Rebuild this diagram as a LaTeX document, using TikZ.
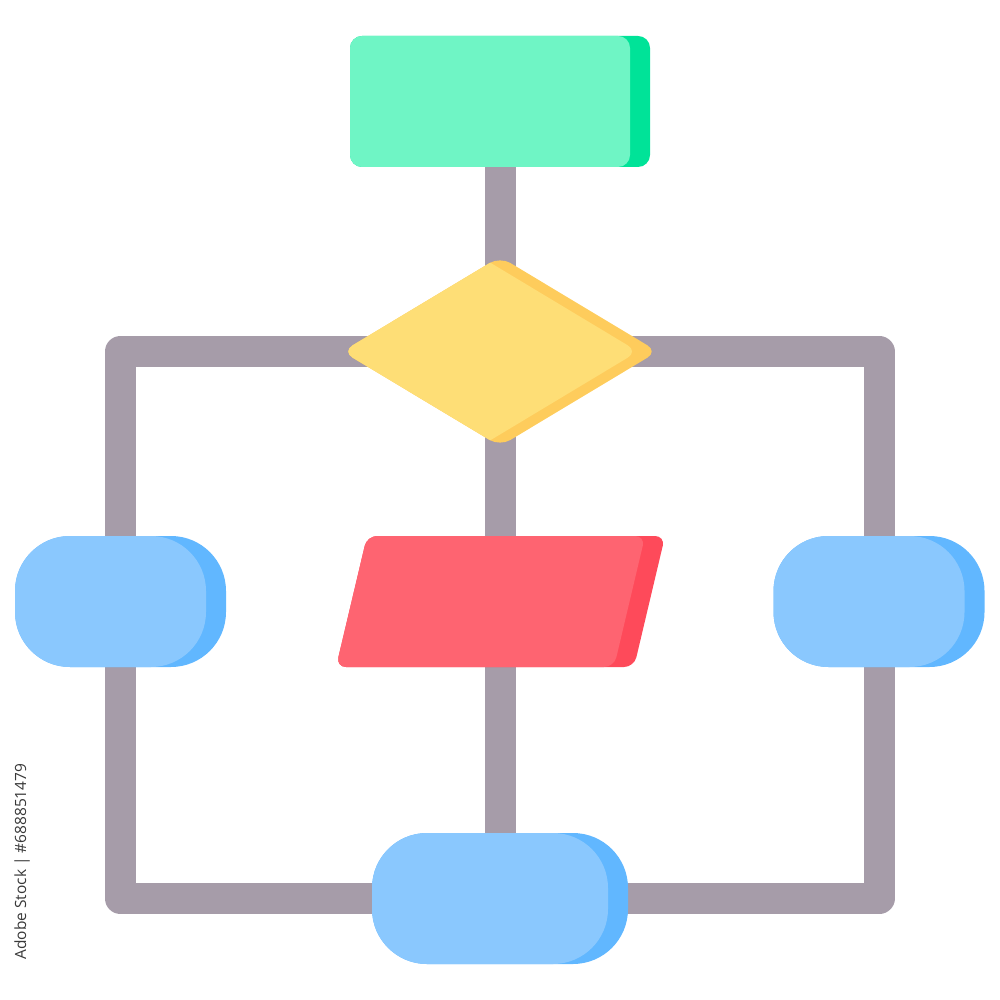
\documentclass[tikz,border=0pt]{standalone}
\usepackage{fontspec}
\setsansfont{Open Sans}
\usetikzlibrary{shapes.geometric,backgrounds}

\definecolor{linkgray}{HTML}{A69CA9}
\definecolor{greenlight}{HTML}{6FF5C5}
\definecolor{greendark}{HTML}{00E398}
\definecolor{yellowlight}{HTML}{FEDE76}
\definecolor{yellowdark}{HTML}{FECC5C}
\definecolor{bluelight}{HTML}{8AC8FE}
\definecolor{bluedark}{HTML}{61B7FF}
\definecolor{redlight}{HTML}{FE6471}
\definecolor{reddark}{HTML}{FE4A5A}
\definecolor{idgray}{HTML}{383838}

\begin{document}
\begin{tikzpicture}[node distance=2.5cm]

    % Styles
    \tikzstyle{startbox} = [rectangle, rounded corners=0.12cm, minimum width=3cm, minimum height=1.31cm, inner sep=0pt, fill=greendark,
        path picture={\fill[greenlight, rounded corners=0.12cm, shift={(path picture bounding box.center)}] (-1.7,-0.655) rectangle (1.3,0.655);}]
    \tikzstyle{decision} = [diamond, rounded corners=0.12cm, minimum width=3.16cm, minimum height=1.9cm, inner sep=0pt, fill=yellowdark,
        path picture={\fill[yellowlight, rounded corners=0.12cm, shift={(path picture bounding box.center)}] (-1.78,0) -- (-0.2,0.95) -- (1.38,0) -- (-0.2,-0.95) -- cycle;}]
    \tikzstyle{process} = [rectangle, xslant=0.2366, rounded corners=0.1cm, minimum width=2.98cm, minimum height=1.31cm, inner sep=0pt, fill=reddark,
        path picture={\fill[redlight, rounded corners=0.1cm, shift={(path picture bounding box.center)}] (-1.69,-0.655) rectangle (1.29,0.655);}]
    \tikzstyle{sidebox} = [rectangle, rounded corners=0.55cm, minimum width=2.11cm, minimum height=1.31cm, inner sep=0pt, fill=bluedark,
        path picture={\fill[bluelight, rounded corners=0.55cm, shift={(path picture bounding box.center)}] (-1.255,-0.655) rectangle (0.855,0.655);}]
    \tikzstyle{endbox} = [rectangle, rounded corners=0.55cm, minimum width=2.56cm, minimum height=1.31cm, inner sep=0pt, fill=bluedark,
        path picture={\fill[bluelight, rounded corners=0.55cm, shift={(path picture bounding box.center)}] (-1.48,-0.655) rectangle (1.08,0.655);}]
    \tikzstyle{link} = [line width=0.31cm, draw=linkgray, line join=round]

    \useasboundingbox (0,0) rectangle (10,-10);

    % Nodes
    \node (start) [startbox] at (5,-1.015) {};
    \node (decide) [decision, below of=start] {};
    \node (input) [process, below of=decide, xshift=0.597cm] {};
    \node (left) [sidebox, below of=decide, xshift=-3.795cm] {};
    \node (right) [sidebox, below of=decide, xshift=3.79cm] {};
    \node (stop) [endbox, below of=decide, yshift=-2.97cm] {};

    \node (stockid) [rotate=90, text=idgray, font=\sffamily\fontsize{4.4pt}{5pt}\selectfont] at (0.22,-8.615) {Adobe Stock | \#688851479};

    % Connectors
    \begin{pgfonlayer}{background}
    \draw [link] (start.center) -- (decide.center);
    \draw [link] (decide.center) -- (stop.center);
    \draw [link] (decide.center) -| (left.center) |- (stop.center);
    \draw [link] (decide.center) -| (right.center) |- (stop.center);
    \end{pgfonlayer}

\end{tikzpicture}
\end{document}
